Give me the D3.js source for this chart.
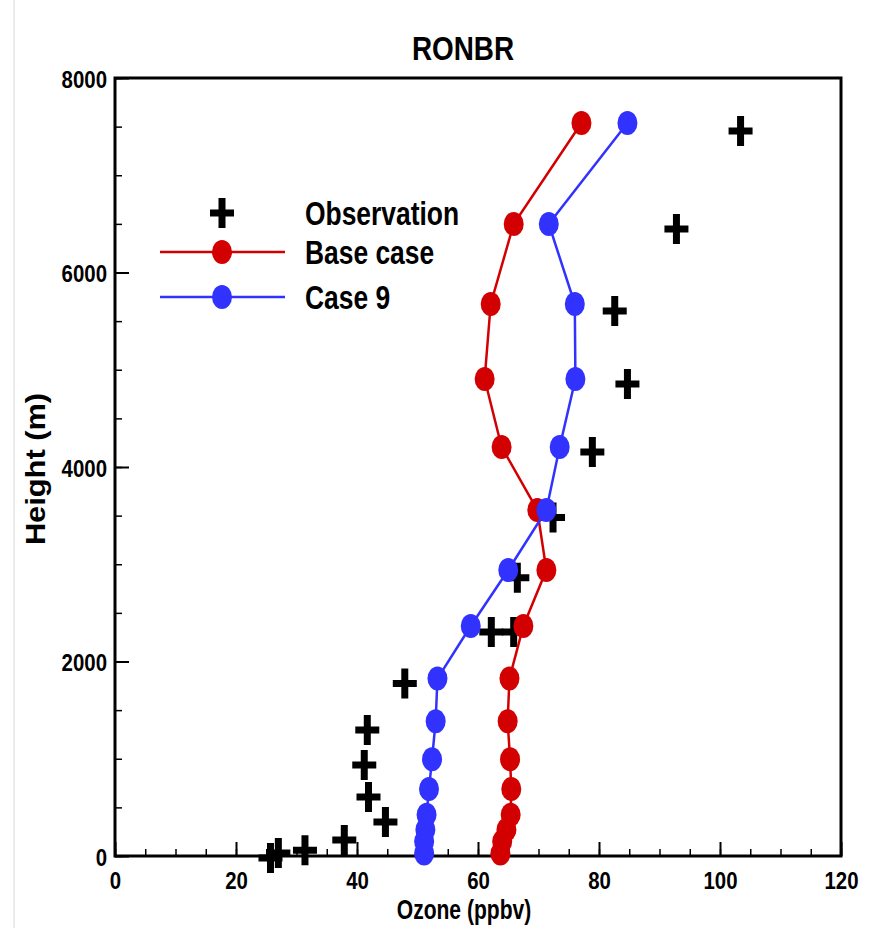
<!DOCTYPE html>
<html>
<head>
<meta charset="utf-8" />
<title>RONBR</title>
<style>
html, body {
    padding: 0px;
    margin: 0px;
    background: #fff;
}
text {
    font-family: "Liberation Sans", Arial, Helvetica, sans-serif;
    font-weight: bold;
    fill: #000;
}
</style>
</head>
<body>
<div id="chart"></div>

<script src="https://cdn.jsdelivr.net/npm/d3@7"></script>
<script>
!(function(){
    "use strict"

    // model levels (m) shared by both runs
    var levels = [7537, 6499, 5676, 4905, 4206, 3558, 2941, 2365, 1825, 1385, 995, 690, 425, 270, 150, 25]
    var baseCase = [77.1, 65.9, 62.1, 61.1, 63.9, 69.8, 71.3, 67.5, 65.2, 64.9, 65.3, 65.5, 65.4, 64.7, 64.0, 63.7]
    var case9 = [84.7, 71.7, 76.0, 76.1, 73.5, 71.3, 65.0, 58.8, 53.3, 53.0, 52.4, 51.9, 51.5, 51.3, 51.1, 51.1]

    // observations: ozone (ppbv), height (m)
    var obsOzone = [103.4, 92.8, 82.6, 84.7, 78.9, 72.4, 66.5, 62.2, 65.9, 47.9, 41.7, 41.2, 41.9, 44.7, 37.9, 31.4, 27.0, 25.7]
    var obsHeight = [7455, 6447, 5604, 4853, 4154, 3480, 2860, 2303, 2303, 1775, 1296, 936, 607, 350, 165, 60, 30, -20]

    var xMajor = [0, 20, 40, 60, 80, 100, 120]
    var yMajor = [0, 2000, 4000, 6000, 8000]

    var W = 888, H = 928
    var left = 115, right = 841, top = 78, bottom = 856
    var sx = 0.85 // squeeze glyphs a bit, original font is narrow

    var svg = d3.select("#chart").append("svg")
        .attr("width", W)
        .attr("height", H)

    // faint page edge on the left
    svg.append("line")
        .attr("x1", 14).attr("x2", 14)
        .attr("y1", 0).attr("y2", H)
        .attr("stroke", "#d8d8d8")
        .attr("stroke-width", 1)

    var x = d3.scaleLinear().domain([0, 120]).range([left, right])
    var y = d3.scaleLinear().domain([0, 8000]).range([bottom, top])

    // minor ticks
    svg.append("g")
        .attr("transform", "translate(0," + bottom + ")")
        .call(d3.axisBottom(x).tickValues(d3.range(0, 121, 5)).tickSize(-7).tickFormat(""))
        .call(function(g){ g.select(".domain").remove() })
        .selectAll("line").attr("stroke", "#000").attr("stroke-width", 1.5)

    svg.append("g")
        .attr("transform", "translate(" + left + ",0)")
        .call(d3.axisLeft(y).tickValues(d3.range(0, 8001, 500)).tickSize(-7).tickFormat(""))
        .call(function(g){ g.select(".domain").remove() })
        .selectAll("line").attr("stroke", "#000").attr("stroke-width", 1.5)

    // major ticks + labels
    var xAxis = svg.append("g")
        .attr("transform", "translate(0," + bottom + ")")
        .call(d3.axisBottom(x).tickValues(xMajor).tickSize(-14).tickPadding(0).tickFormat(d3.format("d")))
    xAxis.select(".domain").remove()
    xAxis.selectAll("line").attr("stroke", "#000").attr("stroke-width", 2)
    xAxis.selectAll("text")
        .attr("y", 0).attr("dy", 0)
        .attr("transform", "translate(0,33) scale(" + sx + ",1)")
        .style("font-size", "24px")

    var yAxis = svg.append("g")
        .attr("transform", "translate(" + left + ",0)")
        .call(d3.axisLeft(y).tickValues(yMajor).tickSize(-14).tickPadding(0).tickFormat(d3.format("d")))
    yAxis.select(".domain").remove()
    yAxis.selectAll("line").attr("stroke", "#000").attr("stroke-width", 2)
    yAxis.selectAll("text")
        .attr("x", 0).attr("dy", 0)
        .attr("transform", "translate(-8,9) scale(" + sx + ",1)")
        .style("font-size", "24px")

    // frame
    svg.append("rect")
        .attr("x", left).attr("y", top)
        .attr("width", right - left).attr("height", bottom - top)
        .attr("fill", "none")
        .attr("stroke", "#000")
        .attr("stroke-width", 3)

    // titles
    svg.append("text")
        .attr("transform", "translate(463,60) scale(0.82,1)")
        .attr("text-anchor", "middle")
        .style("font-size", "34px")
        .text("RONBR")

    svg.append("text")
        .attr("transform", "translate(464,919) scale(0.78,1)")
        .attr("text-anchor", "middle")
        .style("font-size", "27px")
        .text("Ozone (ppbv)")

    svg.append("text")
        .attr("transform", "translate(45,469) rotate(-90) scale(1.1,1)")
        .attr("text-anchor", "middle")
        .style("font-size", "28px")
        .text("Height (m)")

    var red = "#d20000", blue = "#3232ff"

    function crossPath(cx, cy) {
        return "M" + (cx - 12) + "," + cy + "H" + (cx + 12) + "M" + cx + "," + (cy - 15) + "V" + (cy + 15)
    }

    function drawSeries(vals, color) {
        var pts = levels.map(function(h, i){ return [vals[i], h] })
        var line = d3.line().x(function(d){ return x(d[0]) }).y(function(d){ return y(d[1]) })
        svg.append("path")
            .datum(pts)
            .attr("d", line)
            .attr("fill", "none")
            .attr("stroke", color)
            .attr("stroke-width", 2.5)
        svg.append("g").selectAll("ellipse")
            .data(pts)
            .enter()
            .append("ellipse")
            .attr("cx", function(d){ return x(d[0]) })
            .attr("cy", function(d){ return y(d[1]) })
            .attr("rx", 10)
            .attr("ry", 12)
            .attr("fill", color)
    }

    // observation crosses first, model lines drawn over them
    svg.append("g").selectAll("path")
        .data(obsOzone.map(function(v, i){ return [v, obsHeight[i]] }))
        .enter()
        .append("path")
        .attr("d", function(d){ return crossPath(x(d[0]), y(d[1])) })
        .attr("stroke", "#000")
        .attr("stroke-width", 7)
        .attr("fill", "none")

    drawSeries(baseCase, red)
    drawSeries(case9, blue)

    // legend
    var lg = svg.append("g")
    lg.append("path")
        .attr("d", crossPath(222, 213))
        .attr("stroke", "#000").attr("stroke-width", 7)
    var rows = [["Observation", 213, null], ["Base case", 252, red], ["Case 9", 297, blue]]
    rows.forEach(function(r){
        if (r[2]) {
            lg.append("line")
                .attr("x1", 160).attr("x2", 285)
                .attr("y1", r[1]).attr("y2", r[1])
                .attr("stroke", r[2]).attr("stroke-width", 2.5)
            lg.append("ellipse")
                .attr("cx", 222).attr("cy", r[1])
                .attr("rx", 10).attr("ry", 12)
                .attr("fill", r[2])
        }
        lg.append("text")
            .attr("transform", "translate(305," + (r[1] + 12) + ") scale(0.8,1)")
            .style("font-size", "33px")
            .text(r[0])
    })

}());
</script>
</body>
</html>
